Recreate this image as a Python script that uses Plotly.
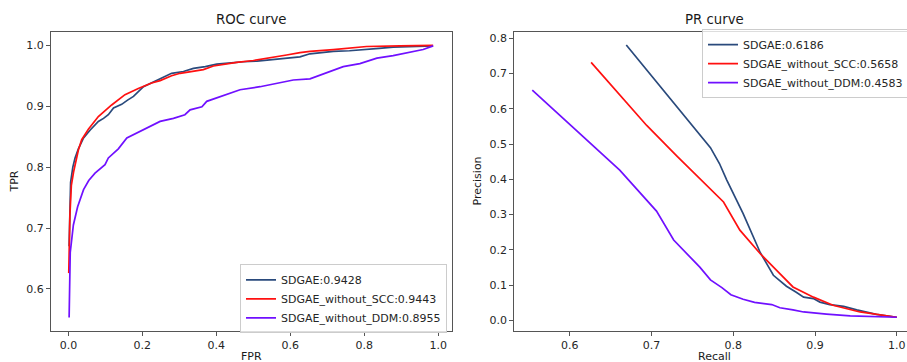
import plotly.graph_objects as go

# ---------------- ROC data ----------------
roc_sdgae_fpr = [0.002, 0.004, 0.006, 0.012, 0.018, 0.027, 0.041, 0.059, 0.070, 0.081, 0.095, 0.108, 0.122, 0.144,
                 0.160, 0.176, 0.203, 0.234, 0.255, 0.279, 0.311, 0.338, 0.370, 0.401, 0.440, 0.473, 0.510, 0.545,
                 0.590, 0.626, 0.653, 0.690, 0.716, 0.760, 0.806, 0.840, 0.878, 0.930, 0.986]
roc_sdgae_tpr = [0.670, 0.740, 0.775, 0.800, 0.815, 0.830, 0.848, 0.861, 0.868, 0.875, 0.880, 0.886, 0.897, 0.903,
                 0.910, 0.916, 0.932, 0.941, 0.946, 0.954, 0.957, 0.962, 0.965, 0.969, 0.971, 0.973, 0.974, 0.976,
                 0.978, 0.981, 0.986, 0.988, 0.990, 0.991, 0.994, 0.995, 0.997, 0.998, 0.999]

roc_nscc_fpr = [0.001, 0.004, 0.008, 0.014, 0.027, 0.036, 0.054, 0.081, 0.117, 0.153, 0.189, 0.225, 0.248, 0.279,
                0.302, 0.365, 0.392, 0.455, 0.500, 0.545, 0.590, 0.626, 0.653, 0.716, 0.806, 0.896, 0.986]
roc_nscc_tpr = [0.626, 0.720, 0.770, 0.792, 0.828, 0.845, 0.862, 0.883, 0.902, 0.919, 0.929, 0.938, 0.942, 0.950,
                0.954, 0.960, 0.966, 0.972, 0.975, 0.979, 0.984, 0.988, 0.990, 0.993, 0.998, 0.999, 1.000]

roc_nddm_fpr = [0.002, 0.005, 0.0135, 0.025, 0.041, 0.055, 0.072, 0.099, 0.108, 0.135, 0.158, 0.175, 0.194, 0.225,
                0.248, 0.284, 0.315, 0.329, 0.361, 0.374, 0.428, 0.464, 0.518, 0.572, 0.608, 0.653, 0.680, 0.707,
                0.743, 0.788, 0.834, 0.878, 0.924, 0.959, 0.986]
roc_nddm_tpr = [0.553, 0.660, 0.705, 0.735, 0.763, 0.778, 0.790, 0.804, 0.815, 0.830, 0.848, 0.853, 0.858, 0.867,
                0.875, 0.880, 0.886, 0.894, 0.899, 0.908, 0.919, 0.927, 0.932, 0.938, 0.943, 0.945, 0.951, 0.957,
                0.965, 0.970, 0.979, 0.983, 0.988, 0.993, 0.999]

# ---------------- PR data ----------------
pr_sdgae_recall = [0.669, 0.722, 0.772, 0.783, 0.792, 0.812, 0.824, 0.833, 0.849, 0.865, 0.877, 0.886, 0.898,
                   0.906, 0.918, 0.935, 0.951, 0.975, 1.000]
pr_sdgae_prec = [0.781, 0.631, 0.490, 0.445, 0.398, 0.303, 0.240, 0.192, 0.128, 0.097, 0.080, 0.066, 0.062,
                 0.052, 0.045, 0.040, 0.030, 0.017, 0.009]

pr_nscc_recall = [0.626, 0.694, 0.731, 0.760, 0.788, 0.808, 0.833, 0.853, 0.873, 0.898, 0.922, 0.955, 1.000]
pr_nscc_prec = [0.732, 0.553, 0.466, 0.400, 0.336, 0.256, 0.189, 0.142, 0.095, 0.066, 0.043, 0.024, 0.009]

pr_nddm_recall = [0.554, 0.661, 0.706, 0.727, 0.759, 0.772, 0.786, 0.797, 0.812, 0.826, 0.847, 0.857, 0.873,
                  0.886, 0.914, 0.943, 1.000]
pr_nddm_prec = [0.653, 0.426, 0.310, 0.228, 0.151, 0.115, 0.093, 0.073, 0.060, 0.051, 0.045, 0.036, 0.030,
                0.024, 0.018, 0.013, 0.009]

roc_names = ["SDGAE:0.9428", "SDGAE_without_SCC:0.9443", "SDGAE_without_DDM:0.8955"]
pr_names = ["SDGAE:0.6186", "SDGAE_without_SCC:0.5658", "SDGAE_without_DDM:0.4583"]
colors = ["#2a4a7c", "#ff1010", "#7010ff"]

roc_ticks = [0.0, 0.2, 0.4, 0.6, 0.8, 1.0]
roc_yticks = [0.6, 0.7, 0.8, 0.9, 1.0]
pr_xticks = [0.6, 0.7, 0.8, 0.9, 1.0]
pr_yticks = [0.0, 0.1, 0.2, 0.3, 0.4, 0.5, 0.6, 0.7, 0.8]

W, H = 907, 362
FONT = "DejaVu Sans"

fig = go.Figure()
roc_sets = [(roc_sdgae_fpr, roc_sdgae_tpr), (roc_nscc_fpr, roc_nscc_tpr), (roc_nddm_fpr, roc_nddm_tpr)]
pr_sets = [(pr_sdgae_recall, pr_sdgae_prec), (pr_nscc_recall, pr_nscc_prec), (pr_nddm_recall, pr_nddm_prec)]
for (x, y), n, c in zip(roc_sets, roc_names, colors):
    fig.add_trace(go.Scatter(x=x, y=y, mode="lines", name=n, line=dict(color=c, width=1.7),
                             xaxis="x", yaxis="y", legend="legend"))
for (x, y), n, c in zip(pr_sets, pr_names, colors):
    fig.add_trace(go.Scatter(x=x, y=y, mode="lines", name=n, line=dict(color=c, width=1.7),
                             xaxis="x2", yaxis="y2", legend="legend2"))

ax_common = dict(showline=True, linecolor="#555555", linewidth=1, ticks="outside", ticklen=4,
                 tickcolor="#555555", tickwidth=1, showgrid=False, zeroline=False,
                 tickfont=dict(family=FONT, size=11, color="#262626"), automargin=False, tickformat=".1f")

ydom = [1 - 331 / H, 1 - 32 / H]
legend_style = dict(xanchor="left", yanchor="middle",
                    bgcolor="rgba(255,255,255,0.8)", bordercolor="#cccccc", borderwidth=1,
                    font=dict(family=FONT, size=11, color="#262626"))
fig.update_layout(
    width=W, height=H,
    margin=dict(l=0, r=0, t=0, b=0, autoexpand=False),
    paper_bgcolor="white", plot_bgcolor="white",
    font=dict(family=FONT, size=11, color="#262626"),
    xaxis=dict(domain=[51 / W, 452 / W], range=[-0.047, 1.037], tickvals=roc_ticks, anchor="y",
               mirror=True, **ax_common),
    yaxis=dict(domain=ydom, range=[0.531, 1.0218], tickvals=roc_yticks, anchor="x",
               mirror=True, **ax_common),
    xaxis2=dict(domain=[514.3 / W, 1.0], range=[0.532, 1.0125], tickvals=pr_xticks, anchor="y2",
                mirror=True, **ax_common),
    yaxis2=dict(domain=ydom, range=[-0.030, 0.818], tickvals=pr_yticks, anchor="x2",
                mirror=False, **ax_common),
    legend=dict(x=240 / W, y=1 - 298.8 / H, **legend_style),
    legend2=dict(x=702 / W, y=1 - 63.7 / H, **legend_style),
    showlegend=True,
)

ann = [
    dict(text="ROC curve", x=251.5 / W, y=1 - 20 / H, size=13.3, angle=0),
    dict(text="PR curve", x=714.5 / W, y=1 - 20 / H, size=13.3, angle=0),
    dict(text="FPR", x=251.5 / W, y=1 - 356 / H, size=11, angle=0),
    dict(text="Recall", x=714.5 / W, y=1 - 356 / H, size=11, angle=0),
    dict(text="TPR", x=14 / W, y=1 - 181.5 / H, size=11, angle=-90),
    dict(text="Precision", x=477 / W, y=1 - 181.5 / H, size=11, angle=-90),
]
for a in ann:
    fig.add_annotation(text=a["text"], x=a["x"], y=a["y"], xref="paper", yref="paper",
                       xanchor="center", yanchor="middle", showarrow=False, textangle=a["angle"],
                       font=dict(family=FONT, size=a["size"], color="#1a1a1a"))

fig.write_html("out.html", config={"displayModeBar": False, "staticPlot": True},
               post_script="document.body.style.margin='0';")
